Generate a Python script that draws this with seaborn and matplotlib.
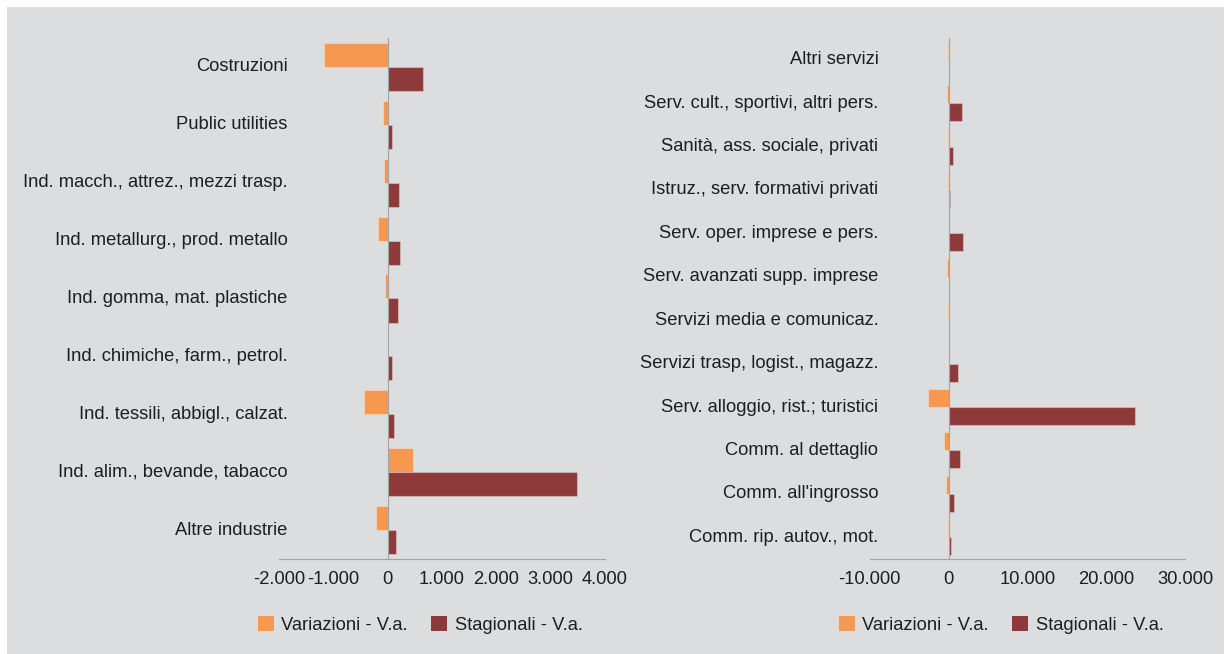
import numpy as np
import pandas as pd
import matplotlib
matplotlib.use('Agg')
import matplotlib.pyplot as plt
import matplotlib.patches as mpatches
from matplotlib.ticker import FuncFormatter
import seaborn as sns

industrie = ['Costruzioni', 'Public utilities', 'Ind. macch., attrez., mezzi trasp.',
             'Ind. metallurg., prod. metallo', 'Ind. gomma, mat. plastiche',
             'Ind. chimiche, farm., petrol.', 'Ind. tessili, abbigl., calzat.',
             'Ind. alim., bevande, tabacco', 'Altre industrie']
ind_variazioni = [-1180, -85, -70, -180, -40, 0, -430, 465, -215]
ind_stagionali = [645, 85, 210, 235, 195, 85, 120, 3480, 155]

servizi = ['Altri servizi', 'Serv. cult., sportivi, altri pers.', 'Sanità, ass. sociale, privati',
           'Istruz., serv. formativi privati', 'Serv. oper. imprese e pers.',
           'Serv. avanzati supp. imprese', 'Servizi media e comunicaz.',
           'Servizi trasp, logist., magazz.', 'Serv. alloggio, rist.; turistici',
           'Comm. al dettaglio', 'Comm. all\'ingrosso', 'Comm. rip. autov., mot.']
ser_variazioni = [-100, -150, -40, -20, 100, -250, -100, 100, -2540, -550, -300, -60]
ser_stagionali = [0, 1700, 600, 170, 1820, 100, 0, 1230, 23600, 1440, 720, 300]

serie = ['Variazioni - V.a.', 'Stagionali - V.a.']
colori = ['#F79850', '#8E3A3A']

sns.set_style('white')
plt.rcParams['font.family'] = ['Liberation Sans', 'DejaVu Sans']
plt.rcParams['text.color'] = '#1e1e1e'

BG = '#DCDDDF'
GRID = '#A3A3A5'
FS = 13.2

fig = plt.figure(figsize=(12.3, 6.54), dpi=100)
fig.patch.set_facecolor('white')
# gray background panel
fig.add_artist(mpatches.Rectangle((7 / 1230, 0), (1224 - 7) / 1230, 1 - 7 / 654,
                                  transform=fig.transFigure, facecolor=BG, edgecolor='none', zorder=0))


def fmt(v, pos):
    return f'{int(v):,}'.replace(',', '.')


def pannello(rect, cats, var, stag, xlim, step, label_x, legend_x):
    ax = fig.add_axes(rect)
    ax.set_facecolor('none')
    df = pd.DataFrame({
        'cat': cats * 2,
        'val': var + stag,
        'serie': [serie[0]] * len(cats) + [serie[1]] * len(cats),
    })
    sns.barplot(data=df, y='cat', x='val', hue='serie', orient='h', order=cats,
                hue_order=serie, palette=colori, width=0.83, saturation=1,
                edgecolor=(1, 1, 1, 0.3), linewidth=0.8, ax=ax, zorder=3)
    ax.set_xlim(*xlim)
    ax.set_xticks(np.arange(xlim[0], xlim[1] + 1, step))
    ax.xaxis.set_major_formatter(FuncFormatter(fmt))
    ax.set_xlabel('')
    ax.set_ylabel('')
    for s in ['top', 'right']:
        ax.spines[s].set_visible(False)
    ax.spines['bottom'].set_color(GRID)
    ax.spines['left'].set_color(GRID)
    ax.spines['left'].set_position(('data', 0))
    ax.spines['left'].set_zorder(4)
    ax.tick_params(axis='x', direction='out', length=4, color=GRID, labelsize=FS,
                   pad=5, labelcolor='#1e1e1e')
    ax.set_yticks(np.arange(len(cats)))
    ax.set_yticklabels([])
    ax.tick_params(axis='y', which='major', length=0)
    ax.set_yticks(np.arange(len(cats) + 1) - 0.5, minor=True)
    ax.tick_params(axis='y', which='minor', direction='out', length=4, color=GRID)
    for i, c in enumerate(cats):
        ax.text(label_x, i, c, transform=ax.get_yaxis_transform(), ha='right',
                va='center', fontsize=FS)
    ax.get_legend().remove()
    handles = [mpatches.Patch(facecolor=col, edgecolor='none') for col in colori]
    fig.legend(handles, serie, loc='center', bbox_to_anchor=(legend_x, 0.044),
               ncol=2, frameon=False, fontsize=FS, handlelength=0.87, handleheight=0.87,
               handletextpad=0.4, columnspacing=1.3)
    return ax


y0 = 1 - 559 / 654
h = 521 / 654
pannello([279 / 1230, y0, 326 / 1230, h], industrie, ind_variazioni, ind_stagionali,
         (-2000, 4000), 1000, 0.027, 420 / 1230)
pannello([869.6 / 1230, y0, 315.7 / 1230, h], servizi, ser_variazioni, ser_stagionali,
         (-10000, 30000), 10000, 0.028, 1001 / 1230)

fig.savefig('out.png', dpi=100, facecolor=fig.get_facecolor())
